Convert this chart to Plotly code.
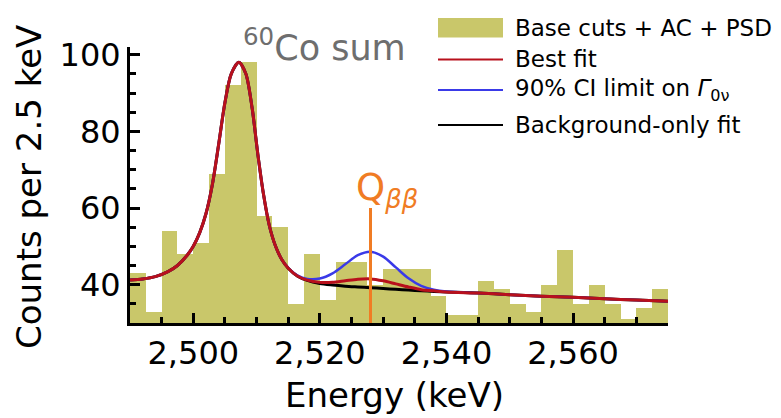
import plotly.graph_objects as go

# ---------------- data ----------------
bin_start = 2490.0
bin_width = 2.5
counts = [43, 33, 54, 48, 51, 69, 92, 98, 58, 55, 35, 48, 36, 46, 46, 40, 44,
          44, 44, 37, 32, 32, 41, 39, 35, 33, 40, 49, 35, 40, 35, 31, 34, 39]

curve_energy = [2490, 2492, 2494, 2496, 2497.5, 2499, 2500, 2501, 2502, 2503,
                2504, 2505, 2506, 2507.2, 2508.3, 2509.3, 2510.2, 2511.1, 2512, 2513,
                2514, 2515, 2516.5, 2518, 2520, 2522, 2524, 2526, 2528, 2530,
                2532, 2534, 2536, 2538, 2540, 2545, 2550, 2555, 2560, 2565,
                2570, 2575]
best_fit = [41.2, 41.5, 42.1, 43.4, 45.0, 47.6, 50.0, 53.5, 58.5, 66.0,
            76.5, 87.5, 95.0, 98.0, 95.0, 86.0, 74.0, 63.5, 55.5, 50.0,
            46.5, 44.3, 42.2, 41.2, 40.6, 40.6, 41.0, 41.4, 41.5, 41.0,
            40.2, 39.4, 38.7, 38.4, 38.1, 37.8, 37.4, 37.0, 36.7, 36.3,
            36.0, 35.7]
ci_limit = [41.2, 41.5, 42.1, 43.4, 45.0, 47.6, 50.0, 53.5, 58.5, 66.0,
            76.5, 87.5, 95.0, 98.0, 95.0, 86.0, 74.0, 63.5, 55.5, 50.0,
            46.5, 44.4, 42.35, 41.5, 41.6, 42.95, 45.3, 47.7, 48.6, 47.3,
            44.5, 41.65, 39.67, 38.66, 38.2, 37.8, 37.4, 37.0, 36.7, 36.3,
            36.0, 35.7]
bkg_only = [41.2, 41.5, 42.1, 43.4, 45.0, 47.6, 50.0, 53.5, 58.5, 66.0,
            76.5, 87.5, 95.0, 98.0, 95.0, 86.0, 74.0, 63.5, 55.5, 50.0,
            46.5, 44.3, 42.2, 41.1, 40.3, 39.9, 39.6, 39.4, 39.2, 39.0,
            38.8, 38.6, 38.4, 38.25, 38.1, 37.8, 37.4, 37.0, 36.7, 36.3,
            36.0, 35.7]

q_bb = 2528.0
q_line_top = 60.0

x_tickvals = [2500, 2520, 2540, 2560]
x_ticktext = ["2,500", "2,520", "2,540", "2,560"]
y_tickvals = [40, 60, 80, 100]
y_ticktext = ["40", "60", "80", "100"]

legend_labels = ["Base cuts + AC + PSD", "Best fit",
                 "90% CI limit on <i>Γ</i><sub>0ν</sub>", "Background-only fit"]

# ---------------- styling ----------------
FONT = "DejaVu Sans"
OLIVE = "#C9C76A"
RED = "#B8101C"
BLUE = "#3A3AE8"
BLACK = "#000000"
ORANGE = "#F07C24"
GRAY = "#6E6E6E"

W, H = 781, 418
L, R, T, B = 130, 113, 47, 95
pw, ph = W - L - R, H - T - B


def px(x):
    return (x - L) / pw


def py(y):
    return (H - B - y) / ph


centers = [bin_start + bin_width * (i + 0.5) for i in range(len(counts))]

fig = go.Figure()
fig.add_trace(go.Bar(x=centers, y=counts, width=bin_width, marker_color=OLIVE,
                     marker_line_width=0, showlegend=False, hoverinfo="skip"))
fig.add_trace(go.Scatter(x=curve_energy, y=bkg_only, mode="lines",
                         line=dict(color=BLACK, width=3, shape="spline", smoothing=0.8),
                         showlegend=False))
fig.add_trace(go.Scatter(x=curve_energy, y=ci_limit, mode="lines",
                         line=dict(color=BLUE, width=2.5, shape="spline", smoothing=0.8),
                         showlegend=False))
fig.add_trace(go.Scatter(x=curve_energy, y=best_fit, mode="lines",
                         line=dict(color=RED, width=3, shape="spline", smoothing=0.8),
                         showlegend=False))

shapes = [dict(type="line", xref="x", yref="y", x0=q_bb, x1=q_bb, y0=30, y1=q_line_top,
               line=dict(color=ORANGE, width=3), layer="above")]

# manual legend
leg_x0, leg_x1, txt_x = 438, 503, 513
rows_y = [27.5, 59.5, 90, 125]
shapes.append(dict(type="rect", xref="paper", yref="paper",
                   x0=px(leg_x0), x1=px(leg_x1), y0=py(37.5), y1=py(18),
                   fillcolor=OLIVE, line=dict(width=0)))
for col, yy in zip([RED, BLUE, BLACK], rows_y[1:]):
    shapes.append(dict(type="line", xref="paper", yref="paper",
                       x0=px(leg_x0), x1=px(leg_x1), y0=py(yy), y1=py(yy),
                       line=dict(color=col, width=2)))

annotations = []
for lab, yy in zip(legend_labels, rows_y):
    annotations.append(dict(xref="paper", yref="paper", x=px(txt_x), y=py(yy),
                            text=lab, showarrow=False, xanchor="left", yanchor="middle",
                            font=dict(family=FONT, size=23, color="black")))

annotations.append(dict(xref="paper", yref="paper", x=px(241), y=py(45),
                        text="<sup>60</sup>Co sum", showarrow=False,
                        xanchor="left", yanchor="middle",
                        font=dict(family=FONT, size=35, color=GRAY)))
annotations.append(dict(xref="paper", yref="paper", x=px(354), y=py(190),
                        text="Q<sub><i>ββ</i></sub>", showarrow=False,
                        xanchor="left", yanchor="middle",
                        font=dict(family=FONT, size=37, color=ORANGE)))
# axis titles
annotations.append(dict(xref="paper", yref="paper", x=px(394), y=py(395),
                        text="Energy (keV)", showarrow=False,
                        xanchor="center", yanchor="middle",
                        font=dict(family=FONT, size=34, color="black")))
annotations.append(dict(xref="paper", yref="paper", x=px(29), y=py(187),
                        text="Counts per 2.5 keV", showarrow=False, textangle=-90,
                        xanchor="center", yanchor="middle",
                        font=dict(family=FONT, size=34, color="black")))

fig.update_layout(
    width=W, height=H, margin=dict(l=L, r=R, t=T, b=B, pad=0, autoexpand=False),
    plot_bgcolor="white", paper_bgcolor="white",
    bargap=0, shapes=shapes, annotations=annotations, showlegend=False,
    font=dict(family=FONT, color="black"),
)
fig.update_xaxes(range=[2490, 2575], tickvals=x_tickvals, ticktext=x_ticktext,
                 ticks="inside", ticklen=10, tickwidth=3, tickcolor="black",
                 minor=dict(ticks="inside", dtick=5, tick0=2490, ticklen=6, tickwidth=2.5,
                            tickcolor="black", showgrid=False),
                 showline=True, linecolor="black", linewidth=3, showgrid=False,
                 zeroline=False, tickfont=dict(family=FONT, size=32), automargin=False)
fig.update_yaxes(range=[30, 102], tickvals=y_tickvals, ticktext=y_ticktext,
                 ticks="inside", ticklen=10, tickwidth=3, tickcolor="black",
                 minor=dict(ticks="inside", dtick=5, tick0=30, ticklen=6, tickwidth=2.5,
                            tickcolor="black", showgrid=False),
                 showline=True, linecolor="black", linewidth=3, showgrid=False,
                 zeroline=False, tickfont=dict(family=FONT, size=32), automargin=False)

fig.write_html("out.html", config={"displayModeBar": False},
               post_script="document.body.style.margin='0';document.body.style.overflow='hidden';")
